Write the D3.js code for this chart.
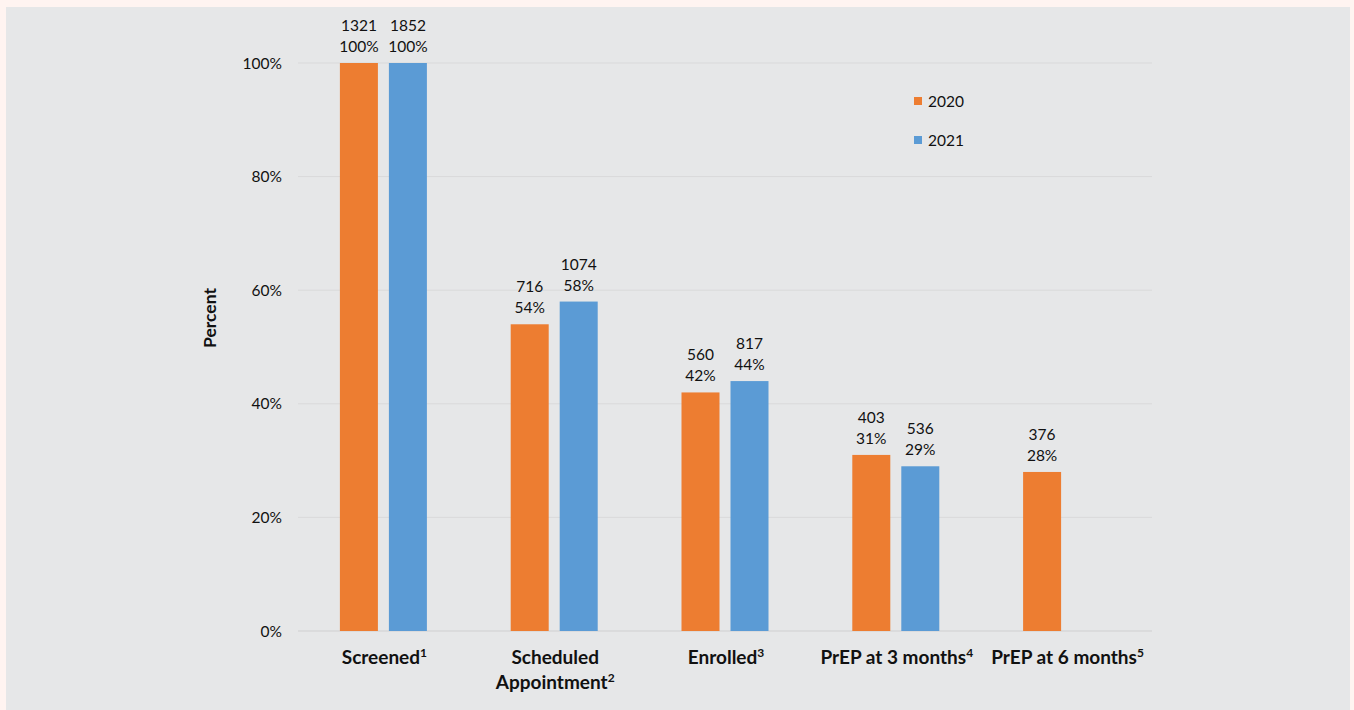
<!DOCTYPE html>
<html>
<head>
<meta charset="utf-8">
<script src="https://cdn.jsdelivr.net/npm/d3@7"></script>
<style>
  body { margin: 0; background: #fff4f1; }
  svg { display: block; }
</style>
</head>
<body>
<div id="chart-area"></div>
<script>
/* chart data */
var categories = ["Screened", "Scheduled Appointment", "Enrolled", "PrEP at 3 months", "PrEP at 6 months"];
var footnotes = ["1", "2", "3", "4", "5"];
var years = ["2020", "2021"];
var pct2020 = [100, 54, 42, 31, 28];
var pct2021 = [100, 58, 44, 29, null];
var count2020 = [1321, 716, 560, 403, 376];
var count2021 = [1852, 1074, 817, 536, null];
var yTicks = [0, 20, 40, 60, 80, 100];

var width = 1354, height = 710;
var colors = {"2020": "#ed7d31", "2021": "#5b9bd5"};
var font = "Lato, 'Open Sans', sans-serif";

var svg = d3.select("#chart-area").append("svg")
    .attr("width", width)
    .attr("height", height);

/* gray panel */
svg.append("rect")
    .attr("x", 6).attr("y", 7)
    .attr("width", 1344).attr("height", 703)
    .attr("fill", "#e6e7e8");

var x0 = d3.scaleBand().domain(categories).range([298, 1152]).padding(0);
var x1 = d3.scaleBand().domain(years).range([0, 87]).paddingInner(11 / 49).paddingOuter(0);
var y = d3.scaleLinear().domain([0, 100]).range([631, 63]);

/* gridlines */
svg.append("g")
    .selectAll("line")
    .data(yTicks)
    .enter().append("line")
    .attr("x1", 298).attr("x2", 1152)
    .attr("y1", d => y(d)).attr("y2", d => y(d))
    .attr("stroke", d => d === 0 ? "#cfcfd0" : "#d9d9da")
    .attr("stroke-width", 1);

/* y tick labels */
svg.append("g")
    .selectAll("text")
    .data(yTicks)
    .enter().append("text")
    .attr("x", 282)
    .attr("y", d => y(d) + 5.5)
    .attr("text-anchor", "end")
    .attr("font-family", font)
    .attr("font-size", 15.5)
    .attr("fill", "#111")
    .text(d => d + "%");

/* y title */
svg.append("text")
    .attr("transform", "translate(216,318) rotate(-90)")
    .attr("text-anchor", "middle")
    .attr("font-family", font)
    .attr("font-size", 17.5)
    .attr("font-weight", "bold")
    .attr("fill", "#111")
    .text("Percent");

/* rows for bars */
var rows = [];
categories.forEach(function(c, i) {
    rows.push({cat: c, year: "2020", pct: pct2020[i], n: count2020[i]});
    rows.push({cat: c, year: "2021", pct: pct2021[i], n: count2021[i]});
});
rows = rows.filter(d => d.pct !== null);

var cx = d => x0(d.cat) + x0.bandwidth() / 2 - 43.5 + x1(d.year);

svg.append("g")
    .selectAll("rect")
    .data(rows)
    .enter().append("rect")
    .attr("x", cx)
    .attr("y", d => y(d.pct))
    .attr("width", x1.bandwidth())
    .attr("height", d => y(0) - y(d.pct))
    .attr("fill", d => colors[d.year]);

/* value labels */
var lab = svg.append("g")
    .selectAll("text")
    .data(rows)
    .enter().append("text")
    .attr("text-anchor", "middle")
    .attr("font-family", font)
    .attr("font-size", 15.5)
    .attr("fill", "#111");
lab.append("tspan")
    .attr("x", d => cx(d) + x1.bandwidth() / 2)
    .attr("y", d => y(d.pct) - 32)
    .text(d => d.n);
lab.append("tspan")
    .attr("x", d => cx(d) + x1.bandwidth() / 2)
    .attr("y", d => y(d.pct) - 11)
    .text(d => d.pct + "%");

/* category labels */
var catLines = {"Scheduled Appointment": ["Scheduled", "Appointment"]};
var catG = svg.append("g")
    .selectAll("text")
    .data(categories)
    .enter().append("text")
    .attr("text-anchor", "middle")
    .attr("font-family", font)
    .attr("font-size", 19)
    .attr("font-weight", "bold")
    .attr("fill", "#111");
catG.each(function(c, i) {
    var lines = catLines[c] || [c];
    var t = d3.select(this);
    var xc = x0(c) + x0.bandwidth() / 2;
    lines.forEach(function(l, j) {
        t.append("tspan")
            .attr("x", xc + 1)
            .attr("y", 664 + j * 25)
            .text(l);
    });
    t.append("tspan")
        .attr("font-size", 12)
        .attr("dy", -7)
        .text(footnotes[i]);
});

/* legend */
var leg = svg.append("g")
    .selectAll("g")
    .data(years)
    .enter().append("g")
    .attr("transform", (d, i) => "translate(914," + (97 + i * 39) + ")");
leg.append("rect")
    .attr("width", 8).attr("height", 8)
    .attr("fill", d => colors[d]);
leg.append("text")
    .attr("x", 14).attr("y", 9.5)
    .attr("font-family", font)
    .attr("font-size", 15.5)
    .attr("fill", "#111")
    .text(d => d);
</script>
</body>
</html>
